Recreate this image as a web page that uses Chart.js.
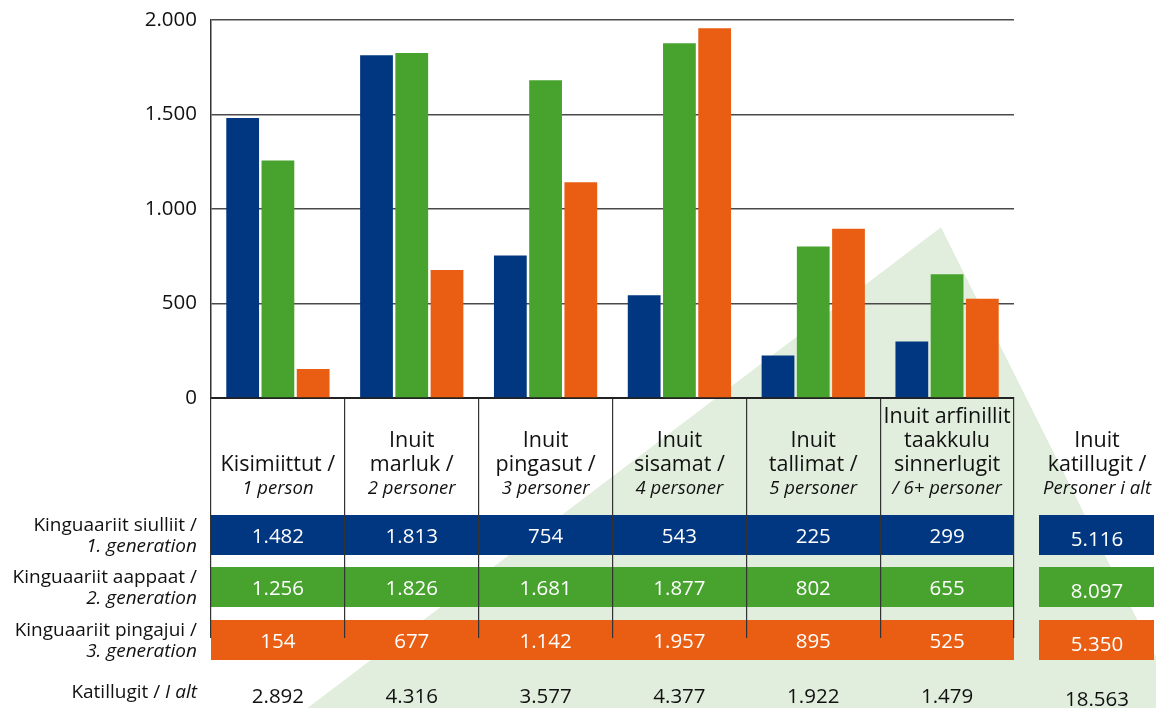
<!DOCTYPE html>
<html>
<head>
<meta charset="utf-8">
<script src="https://cdn.jsdelivr.net/npm/chart.js@4.4.0/dist/chart.umd.min.js"></script>
<style>
  html, body { margin: 0; padding: 0; background: #fff; }
  #wrap { width: 1156px; height: 708px; position: relative; }
</style>
</head>
<body>
<div id="wrap"><canvas id="myChart"></canvas></div>
<script>
// household size categories (main text + italic danish text)
const catMain = [
  ['Kisimiittut /'],
  ['Inuit', 'marluk /'],
  ['Inuit', 'pingasut /'],
  ['Inuit', 'sisamat /'],
  ['Inuit', 'tallimat /'],
  ['Inuit arfinillit', 'taakkulu', 'sinnerlugit']
];
const catSub = ['1 person', '2 personer', '3 personer', '4 personer', '5 personer', '/ 6+ personer'];
const totalHead = ['Inuit', 'katillugit /'];
const totalHeadSub = 'Personer i alt';

// generations
const rowMain = ['Kinguaariit siulliit /', 'Kinguaariit aappaat /', 'Kinguaariit pingajui /'];
const rowSub = ['1. generation', '2. generation', '3. generation'];
const gen1 = [1482, 1813, 754, 543, 225, 299];
const gen2 = [1256, 1826, 1681, 1877, 802, 655];
const gen3 = [154, 677, 1142, 1957, 895, 525];
const rowTotals = [5116, 8097, 5350];
const colTotals = [2892, 4316, 3577, 4377, 1922, 1479];
const grandTotal = 18563;
const yTicks = [0, 500, 1000, 1500, 2000];

const colors = ['#003780', '#47a22e', '#e95e12'];
const FONT = '"Open Sans", "Noto Sans", sans-serif';

function fmt(n) {
  return String(n).replace(/\B(?=(\d{3})+(?!\d))/g, '.');
}

const tablePlugin = {
  id: 'table',
  beforeDraw(chart) {
    const { ctx, chartArea, scales: { x } } = chart;
    const W = chart.width, H = chart.height;
    ctx.save();

    // pale green triangle in the background
    ctx.fillStyle = '#e2eedd';
    ctx.beginPath();
    ctx.moveTo(W * 0.814, H * 0.321);
    ctx.lineTo(W * 1.022, H);
    ctx.lineTo(W * 0.266, H);
    ctx.closePath();
    ctx.fill();

    const b = chartArea.bottom;
    const bandTop = [b + 117, b + 169, b + 222];
    const bandH = 40;
    const totX = chartArea.right + 83;
    const data = [gen1, gen2, gen3];

    ctx.textAlign = 'center';
    ctx.textBaseline = 'middle';

    // category headers
    ctx.fillStyle = '#111';
    for (let i = 0; i < catMain.length; i++) {
      const cx = x.getPixelForValue(i);
      ctx.font = 'italic 18.5px ' + FONT;
      ctx.fillText(catSub[i], cx, b + 91);
      ctx.font = '21.5px ' + FONT;
      const lines = catMain[i];
      for (let j = 0; j < lines.length; j++) {
        ctx.fillText(lines[lines.length - 1 - j], cx, b + 67 - j * 24);
      }
    }
    ctx.font = 'italic 18.5px ' + FONT;
    ctx.fillText(totalHeadSub, totX, b + 91);
    ctx.font = '21.5px ' + FONT;
    ctx.fillText(totalHead[1], totX, b + 67);
    ctx.fillText(totalHead[0], totX, b + 43);

    // coloured bands with values
    for (let r = 0; r < 3; r++) {
      ctx.fillStyle = colors[r];
      ctx.fillRect(chartArea.left, bandTop[r], chartArea.right - chartArea.left, bandH);
      ctx.fillRect(chartArea.right + 25, bandTop[r], 115, bandH);
      ctx.fillStyle = '#fff';
      ctx.font = '20.5px ' + FONT;
      for (let i = 0; i < data[r].length; i++) {
        ctx.fillText(fmt(data[r][i]), x.getPixelForValue(i), bandTop[r] + 22);
      }
      ctx.fillText(fmt(rowTotals[r]), totX, bandTop[r] + 25);

      // row labels
      ctx.fillStyle = '#111';
      ctx.textAlign = 'right';
      ctx.font = '19px ' + FONT;
      ctx.fillText(rowMain[r], chartArea.left - 14, bandTop[r] + 11);
      ctx.font = 'italic 19px ' + FONT;
      ctx.fillText(rowSub[r], chartArea.left - 14, bandTop[r] + 32);
      ctx.textAlign = 'center';
    }

    // totals row
    ctx.fillStyle = '#111';
    ctx.font = '20.5px ' + FONT;
    for (let i = 0; i < colTotals.length; i++) {
      ctx.fillText(fmt(colTotals[i]), x.getPixelForValue(i), b + 299);
    }
    ctx.fillText(fmt(grandTotal), totX, b + 302);
    ctx.textAlign = 'right';
    ctx.font = 'italic 19px ' + FONT;
    const altW = ctx.measureText('I alt').width;
    ctx.fillText('I alt', chartArea.left - 14, b + 295);
    ctx.font = '19px ' + FONT;
    ctx.fillText('Katillugit / ', chartArea.left - 14 - altW, b + 295);

    ctx.restore();
  }
};

const myChartRef = document.getElementById('myChart').getContext('2d');

new Chart(myChartRef, {
  type: 'bar',
  data: {
    labels: catSub,
    datasets: [
      { label: rowSub[0], data: gen1, backgroundColor: colors[0] },
      { label: rowSub[1], data: gen2, backgroundColor: colors[1] },
      { label: rowSub[2], data: gen3, backgroundColor: colors[2] }
    ]
  },
  options: {
    responsive: true,
    maintainAspectRatio: false,
    animation: false,
    layout: { padding: { top: 20, right: 142, left: 0, bottom: 0 } },
    datasets: { bar: { categoryPercentage: 0.79, barPercentage: 0.93 } },
    plugins: { legend: { display: false }, tooltip: { enabled: false } },
    scales: {
      x: {
        ticks: { display: false },
        grid: {
          offset: true,
          drawOnChartArea: false,
          drawTicks: true,
          tickLength: 240,
          color: '#333',
          lineWidth: 1.2
        },
        border: { display: true, color: '#222', width: 2 },
        afterFit(scale) {
          scale.height = 310;
          scale.paddingLeft = 0;
          scale.paddingRight = 0;
        }
      },
      y: {
        min: 0,
        max: 2000,
        afterBuildTicks(scale) { scale.ticks = yTicks.map(v => ({ value: v })); },
        ticks: {
          padding: 14,
          color: '#111',
          font: { family: FONT, size: 20.5 },
          callback: v => fmt(v)
        },
        grid: { color: '#4a4a4a', lineWidth: 1.6, drawTicks: false },
        border: { display: true, color: '#333', width: 1.5 },
        afterFit(scale) {
          scale.width = 211;
          scale.paddingTop = 0;
          scale.paddingBottom = 0;
        }
      }
    }
  },
  plugins: [tablePlugin]
});
</script>
</body>
</html>
